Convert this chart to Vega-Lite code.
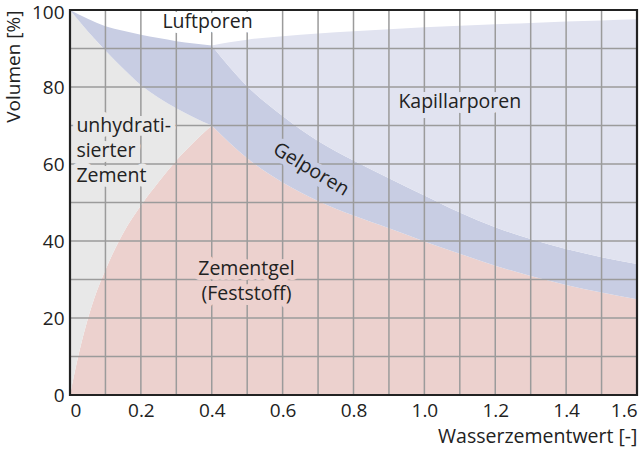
{
  "$schema": "https://vega.github.io/schema/vega-lite/v6.json",
  "width": 567,
  "height": 385,
  "autosize": "none",
  "padding": {"left": 70, "top": 10, "right": 3, "bottom": 58},
  "config": {"view": {"stroke": null}, "font": "Open Sans", "text": {"font": "Open Sans"}},
  "datasets": {
    "areas": [
      {"s": "pink_a", "x": 0, "lo": 0, "hi": 0},
      {"s": "pink_a", "x": 0.01, "lo": 0, "hi": 4.5},
      {"s": "pink_a", "x": 0.025, "lo": 0, "hi": 10.8},
      {"s": "pink_a", "x": 0.05, "lo": 0, "hi": 19.7},
      {"s": "pink_a", "x": 0.075, "lo": 0, "hi": 26.8},
      {"s": "pink_a", "x": 0.1, "lo": 0, "hi": 32.5},
      {"s": "pink_a", "x": 0.15, "lo": 0, "hi": 42.0},
      {"s": "pink_a", "x": 0.2, "lo": 0, "hi": 49.2},
      {"s": "pink_a", "x": 0.25, "lo": 0, "hi": 55.3},
      {"s": "pink_a", "x": 0.3, "lo": 0, "hi": 60.9},
      {"s": "pink_a", "x": 0.35, "lo": 0, "hi": 65.7},
      {"s": "pink_a", "x": 0.4, "lo": 0, "hi": 70.0},
      {"s": "pink_b", "x": 0.4, "lo": 0, "hi": 70.0},
      {"s": "pink_b", "x": 0.5, "lo": 0, "hi": 61.5},
      {"s": "pink_b", "x": 0.6, "lo": 0, "hi": 55.2},
      {"s": "pink_b", "x": 0.7, "lo": 0, "hi": 50.4},
      {"s": "pink_b", "x": 0.8, "lo": 0, "hi": 46.6},
      {"s": "pink_b", "x": 0.9, "lo": 0, "hi": 43.3},
      {"s": "pink_b", "x": 1.0, "lo": 0, "hi": 39.9},
      {"s": "pink_b", "x": 1.1, "lo": 0, "hi": 36.7},
      {"s": "pink_b", "x": 1.2, "lo": 0, "hi": 33.6},
      {"s": "pink_b", "x": 1.3, "lo": 0, "hi": 30.9},
      {"s": "pink_b", "x": 1.4, "lo": 0, "hi": 28.6},
      {"s": "pink_b", "x": 1.5, "lo": 0, "hi": 26.6},
      {"s": "pink_b", "x": 1.6, "lo": 0, "hi": 24.9},
      {"s": "gray", "x": 0, "lo": 0, "hi": 100},
      {"s": "gray", "x": 0.01, "lo": 4.5, "hi": 98.9},
      {"s": "gray", "x": 0.025, "lo": 10.8, "hi": 97.2},
      {"s": "gray", "x": 0.05, "lo": 19.7, "hi": 94.5},
      {"s": "gray", "x": 0.075, "lo": 26.8, "hi": 91.9},
      {"s": "gray", "x": 0.1, "lo": 32.5, "hi": 89.5},
      {"s": "gray", "x": 0.15, "lo": 42.0, "hi": 84.8},
      {"s": "gray", "x": 0.2, "lo": 49.2, "hi": 80.5},
      {"s": "gray", "x": 0.25, "lo": 55.3, "hi": 77.2},
      {"s": "gray", "x": 0.3, "lo": 60.9, "hi": 74.5},
      {"s": "gray", "x": 0.35, "lo": 65.7, "hi": 72.1},
      {"s": "gray", "x": 0.4, "lo": 70.0, "hi": 70.0},
      {"s": "gel_a", "x": 0, "lo": 100, "hi": 100},
      {"s": "gel_a", "x": 0.05, "lo": 94.5, "hi": 97.7},
      {"s": "gel_a", "x": 0.1, "lo": 89.5, "hi": 95.8},
      {"s": "gel_a", "x": 0.15, "lo": 84.8, "hi": 94.6},
      {"s": "gel_a", "x": 0.2, "lo": 80.5, "hi": 93.6},
      {"s": "gel_a", "x": 0.25, "lo": 77.2, "hi": 92.7},
      {"s": "gel_a", "x": 0.3, "lo": 74.5, "hi": 91.9},
      {"s": "gel_a", "x": 0.35, "lo": 72.1, "hi": 91.3},
      {"s": "gel_a", "x": 0.4, "lo": 70.0, "hi": 90.8},
      {"s": "gel_b", "x": 0.4, "lo": 70.0, "hi": 90.8},
      {"s": "gel_b", "x": 0.45, "lo": 65.5, "hi": 85.2},
      {"s": "gel_b", "x": 0.5, "lo": 61.5, "hi": 80.2},
      {"s": "gel_b", "x": 0.6, "lo": 55.2, "hi": 72.5},
      {"s": "gel_b", "x": 0.7, "lo": 50.4, "hi": 66.0},
      {"s": "gel_b", "x": 0.8, "lo": 46.6, "hi": 60.9},
      {"s": "gel_b", "x": 0.9, "lo": 43.3, "hi": 56.3},
      {"s": "gel_b", "x": 1.0, "lo": 39.9, "hi": 51.8},
      {"s": "gel_b", "x": 1.1, "lo": 36.7, "hi": 47.4},
      {"s": "gel_b", "x": 1.2, "lo": 33.6, "hi": 43.6},
      {"s": "gel_b", "x": 1.3, "lo": 30.9, "hi": 40.5},
      {"s": "gel_b", "x": 1.4, "lo": 28.6, "hi": 37.9},
      {"s": "gel_b", "x": 1.5, "lo": 26.6, "hi": 35.8},
      {"s": "gel_b", "x": 1.6, "lo": 24.9, "hi": 34.0},
      {"s": "kap", "x": 0.4, "lo": 90.8, "hi": 90.8},
      {"s": "kap", "x": 0.45, "lo": 85.2, "hi": 91.6},
      {"s": "kap", "x": 0.5, "lo": 80.2, "hi": 92.3},
      {"s": "kap", "x": 0.6, "lo": 72.5, "hi": 93.2},
      {"s": "kap", "x": 0.7, "lo": 66.0, "hi": 93.9},
      {"s": "kap", "x": 0.8, "lo": 60.9, "hi": 94.5},
      {"s": "kap", "x": 0.9, "lo": 56.3, "hi": 95.0},
      {"s": "kap", "x": 1.0, "lo": 51.8, "hi": 95.5},
      {"s": "kap", "x": 1.1, "lo": 47.4, "hi": 95.9},
      {"s": "kap", "x": 1.2, "lo": 43.6, "hi": 96.3},
      {"s": "kap", "x": 1.3, "lo": 40.5, "hi": 96.6},
      {"s": "kap", "x": 1.4, "lo": 37.9, "hi": 97.0},
      {"s": "kap", "x": 1.5, "lo": 35.8, "hi": 97.3},
      {"s": "kap", "x": 1.6, "lo": 34.0, "hi": 97.6}
    ],
    "gridx": [{"g": 0.1}, {"g": 0.2}, {"g": 0.3}, {"g": 0.4}, {"g": 0.5}, {"g": 0.6}, {"g": 0.7}, {"g": 0.8}, {"g": 0.9}, {"g": 1.0}, {"g": 1.1}, {"g": 1.2}, {"g": 1.3}, {"g": 1.4}, {"g": 1.5}],
    "gridy": [{"g": 10}, {"g": 20}, {"g": 30}, {"g": 40}, {"g": 50}, {"g": 60}, {"g": 70}, {"g": 80}, {"g": 90}],
    "frame": [{"x0": 0, "x1": 1.6, "y0": 0, "y1": 100}],
    "lab_c": [
      {"t": "Luftporen", "x": 0.388, "y": 96.9, "region": "air"},
      {"t": "Kapillarporen", "x": 1.1, "y": 76.0, "region": "kap"},
      {"t": "Zementgel", "x": 0.498, "y": 32.7, "region": "pink_a"},
      {"t": "(Feststoff)", "x": 0.498, "y": 26.3, "region": "pink_a"}
    ],
    "lab_l": [
      {"t": "unhydrati-", "x": 0.018, "y": 69.9, "region": "gray"},
      {"t": "sierter", "x": 0.018, "y": 63.4, "region": "gray"},
      {"t": "Zement", "x": 0.018, "y": 56.9, "region": "gray"}
    ],
    "lab_r": [
      {"t": "Gelporen", "x": 0.68, "y": 58.6, "region": "gel_a"}
    ]
  },
  "layer": [
    {
      "data": {"name": "areas"},
      "mark": {"type": "area", "interpolate": "monotone"},
      "encoding": {
        "x": {
          "field": "x", "type": "quantitative",
          "scale": {"domain": [0, 1.6], "nice": false, "zero": false},
          "axis": {
            "title": "Wasserzementwert [-]",
            "values": [0, 0.2, 0.4, 0.6, 0.8, 1.0, 1.2, 1.4, 1.6],
            "grid": false, "ticks": false, "domain": false,
            "labelFlush": true, "labelFontSize": 19, "labelColor": "#222", "labelPadding": 6,
            "labelExpr": "datum.value == 0 ? '0' : format(datum.value, '.1f')",
            "titleAnchor": "end", "titleFontSize": 19.5, "titleFontWeight": "normal", "titleColor": "#222", "titlePadding": 7
          }
        },
        "y": {
          "field": "hi", "type": "quantitative",
          "scale": {"domain": [0, 100], "nice": false},
          "axis": {
            "title": "Volumen [%]",
            "values": [0, 20, 40, 60, 80, 100],
            "grid": false, "ticks": false, "domain": false,
            "labelFontSize": 19, "labelColor": "#222", "labelPadding": 6,
            "labelOffset": {"condition": {"test": "datum.value == 100", "value": 2}, "value": 0},
            "titleAnchor": "end", "titleFontSize": 19, "titleFontWeight": "normal", "titleColor": "#222", "titlePadding": 8
          }
        },
        "y2": {"field": "lo"},
        "color": {
          "field": "s", "type": "nominal",
          "scale": {
            "domain": ["pink_a", "pink_b", "gray", "gel_a", "gel_b", "kap", "air"],
            "range": ["#ecd1ce", "#ecd1ce", "#e8e8e8", "#c8cde3", "#c8cde3", "#e1e3f0", "#ffffff"]
          },
          "legend": null
        }
      }
    },
    {
      "data": {"name": "gridx"},
      "mark": {"type": "rule", "stroke": "#9b9b9b", "strokeWidth": 1.5},
      "encoding": {"x": {"field": "g", "type": "quantitative"}}
    },
    {
      "data": {"name": "gridy"},
      "mark": {"type": "rule", "stroke": "#9b9b9b", "strokeWidth": 1.5},
      "encoding": {"y": {"field": "g", "type": "quantitative"}}
    },
    {
      "data": {"name": "lab_c"},
      "mark": {"type": "text", "fontSize": 19.5, "align": "center", "baseline": "middle", "strokeWidth": 10, "strokeJoin": "round"},
      "encoding": {
        "x": {"field": "x", "type": "quantitative"},
        "y": {"field": "y", "type": "quantitative"},
        "text": {"field": "t"},
        "color": {"field": "region", "type": "nominal", "legend": null},
        "stroke": {"field": "region", "type": "nominal", "legend": null,
          "scale": {"domain": ["pink_a", "pink_b", "gray", "gel_a", "gel_b", "kap", "air"],
            "range": ["#ecd1ce", "#ecd1ce", "#e8e8e8", "#c8cde3", "#c8cde3", "#e1e3f0", "#ffffff"]}}
      }
    },
    {
      "data": {"name": "lab_l"},
      "mark": {"type": "text", "fontSize": 19.5, "align": "left", "baseline": "middle", "strokeWidth": 10, "strokeJoin": "round"},
      "encoding": {
        "x": {"field": "x", "type": "quantitative"},
        "y": {"field": "y", "type": "quantitative"},
        "text": {"field": "t"},
        "color": {"field": "region", "type": "nominal", "legend": null},
        "stroke": {"field": "region", "type": "nominal", "legend": null}
      }
    },
    {
      "data": {"name": "lab_r"},
      "mark": {"type": "text", "fontSize": 19.5, "align": "center", "baseline": "middle", "angle": 31, "strokeWidth": 10, "strokeJoin": "round"},
      "encoding": {
        "x": {"field": "x", "type": "quantitative"},
        "y": {"field": "y", "type": "quantitative"},
        "text": {"field": "t"},
        "color": {"field": "region", "type": "nominal", "legend": null},
        "stroke": {"field": "region", "type": "nominal", "legend": null}
      }
    },
    {
      "data": {"name": "lab_c"},
      "mark": {"type": "text", "fontSize": 19.5, "align": "center", "baseline": "middle", "color": "#222"},
      "encoding": {
        "x": {"field": "x", "type": "quantitative"},
        "y": {"field": "y", "type": "quantitative"},
        "text": {"field": "t"}
      }
    },
    {
      "data": {"name": "lab_l"},
      "mark": {"type": "text", "fontSize": 19.5, "align": "left", "baseline": "middle", "color": "#222"},
      "encoding": {
        "x": {"field": "x", "type": "quantitative"},
        "y": {"field": "y", "type": "quantitative"},
        "text": {"field": "t"}
      }
    },
    {
      "data": {"name": "lab_r"},
      "mark": {"type": "text", "fontSize": 19.5, "align": "center", "baseline": "middle", "angle": 31, "color": "#222"},
      "encoding": {
        "x": {"field": "x", "type": "quantitative"},
        "y": {"field": "y", "type": "quantitative"},
        "text": {"field": "t"}
      }
    },
    {
      "data": {"name": "frame"},
      "mark": {"type": "rect", "filled": false, "color": "#222", "strokeWidth": 2.2},
      "encoding": {
        "x": {"field": "x0", "type": "quantitative"},
        "x2": {"field": "x1"},
        "y": {"field": "y0", "type": "quantitative"},
        "y2": {"field": "y1"}
      }
    }
  ]
}
